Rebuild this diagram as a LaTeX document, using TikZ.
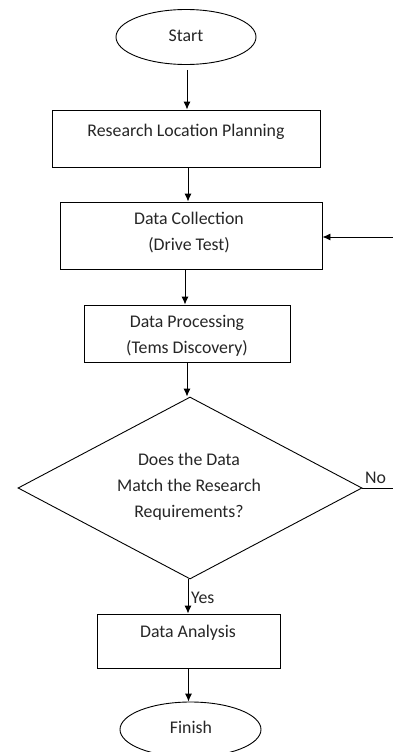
\documentclass[tikz,border=0pt]{standalone}
\usepackage{fontspec}
\setmainfont{Carlito}
\usetikzlibrary{shapes.geometric,arrows.meta}
\begin{document}
\begin{tikzpicture}[x=1pt,y=-1pt,
  every node/.style={font=\fontsize{17.8}{26}\selectfont},
  boxnode/.style={draw,line width=0.9pt,rectangle,inner sep=0pt},
  ovalnode/.style={draw,line width=0.9pt,ellipse,inner sep=0pt},
  txt/.style={align=center,inner sep=0pt,text=black!85},
  arr/.style={line width=0.9pt,-{Latex[length=8pt,width=7pt]}},
  ln/.style={line width=0.9pt}]
\useasboundingbox (0,0) rectangle (393,752);
\fill[white] (0,0) rectangle (393,752);
% shapes
\node[ovalnode,minimum width=140pt,minimum height=55pt] (start) at (186,37) {};
\node[txt] (starttxt) at (186,36) {Start};
\node[boxnode,minimum width=268pt,minimum height=57pt] (rlp) at (186,138.5) {};
\node[txt] (rlptxt) at (186,132) {Research Location Planning};
\node[boxnode,minimum width=262pt,minimum height=67pt] (dc) at (191,235.5) {};
\node[txt] (dctxt) at (189,233) {Data Collection\\(Drive Test)};
\node[boxnode,minimum width=206pt,minimum height=57pt] (dp) at (187,333.5) {};
\node[txt] (dptxt) at (187,335.5) {Data Processing\\(Tems Discovery)};
\node[draw,line width=0.9pt,diamond,inner sep=0pt,aspect=1.89,minimum width=344pt,minimum height=182pt] (dec) at (190,488) {};
\node[txt] (dectxt) at (189,486.5) {Does the Data\\Match the Research\\Requirements?};
\node[boxnode,minimum width=183pt,minimum height=54pt] (da) at (188.5,641) {};
\node[txt] (datxt) at (188,633) {Data Analysis};
\node[ovalnode,minimum width=141pt,minimum height=55pt] (fin) at (190.5,729.5) {};
\node[txt] (fintxt) at (191,727) {Finish};
% connectors
\coordinate (s1) at (187,70);
\coordinate (fb) at (393,237);
\coordinate (nb) at (393,488);
\draw[arr] (s1) -- (rlp.north -| s1);
\draw[arr] ([xshift=2pt]rlp.south) -- ([xshift=2pt]rlp.south |- dc.north);
\draw[arr] ([xshift=-6pt]dc.south) -- ([xshift=-6pt]dc.south |- dp.north);
\draw[arr] (dp.south) -- (dec.north -| dp.south);
\draw[arr] ([xshift=-2pt]dec.south) -- ([xshift=-2pt]dec.south |- da.north);
\draw[arr] (da.south) -- (da.south |- fin.north);
\draw[arr] (fb) -- (dc.east |- fb);
\draw[ln] (dec.east) -- (nb);
% labels
\node[txt,anchor=south west] (nolbl) at (365,484) {No};
\node[txt,anchor=west] (yeslbl) at (191,598) {Yes};
\end{tikzpicture}
\end{document}
